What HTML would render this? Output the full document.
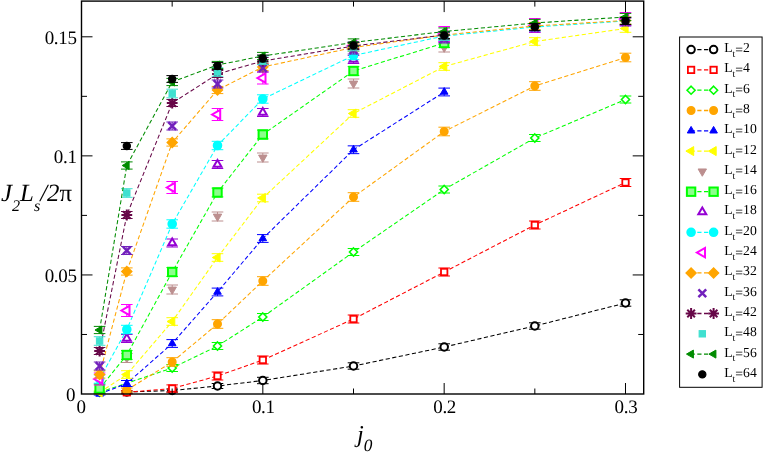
<!DOCTYPE html>
<html><head><meta charset="utf-8"><title>chart</title>
<style>html,body{margin:0;padding:0;background:#fff}body{width:763px;height:453px;position:relative;overflow:hidden;font-family:"Liberation Serif",serif}</style></head>
<body>
<svg width="763" height="453" viewBox="0 0 763 453" style="position:absolute;left:0;top:0;will-change:transform" text-rendering="geometricPrecision">
<rect x="0" y="0" width="763" height="453" fill="#fff"/>
<g>
<path d="M126.8 392L172.2 390.5L217.5 386L262.8 380.5L353.5 366L444.2 347L534.8 326L625.5 303" fill="none" stroke="#000000" stroke-width="1.05" stroke-dasharray="4.2 2.5"/>
<path d="M126.8 391V393M121 391H132.6M121 393H132.6M172.2 389V392M166.4 389H178M166.4 392H178M217.5 383.5V388.5M211.7 383.5H223.3M211.7 388.5H223.3M262.8 377.3V383.7M257 377.3H268.6M257 383.7H268.6M353.5 362.8V369.2M347.7 362.8H359.3M347.7 369.2H359.3M444.2 343.8V350.2M438.4 343.8H450M438.4 350.2H450M534.8 322.8V329.2M529 322.8H540.6M529 329.2H540.6M625.5 299.8V306.2M619.7 299.8H631.3M619.7 306.2H631.3" fill="none" stroke="#000000" stroke-width="1.0"/>
<circle cx="126.8" cy="392" r="3.75" fill="#fff" stroke="#000000" stroke-width="2.0"/>
<circle cx="172.2" cy="390.5" r="3.75" fill="#fff" stroke="#000000" stroke-width="2.0"/>
<circle cx="217.5" cy="386" r="3.75" fill="#fff" stroke="#000000" stroke-width="2.0"/>
<circle cx="262.8" cy="380.5" r="3.75" fill="#fff" stroke="#000000" stroke-width="2.0"/>
<circle cx="353.5" cy="366" r="3.75" fill="#fff" stroke="#000000" stroke-width="2.0"/>
<circle cx="444.2" cy="347" r="3.75" fill="#fff" stroke="#000000" stroke-width="2.0"/>
<circle cx="534.8" cy="326" r="3.75" fill="#fff" stroke="#000000" stroke-width="2.0"/>
<circle cx="625.5" cy="303" r="3.75" fill="#fff" stroke="#000000" stroke-width="2.0"/>
</g>
<g>
<path d="M126.8 392.3L172.2 388.5L217.5 376L262.8 360L353.5 319L444.2 272L534.8 225L625.5 182.5" fill="none" stroke="#ff0000" stroke-width="1.05" stroke-dasharray="4.2 2.5"/>
<path d="M126.8 390.8V393.8M121 390.8H132.6M121 393.8H132.6M172.2 384.9V392.1M166.4 384.9H178M166.4 392.1H178M217.5 372V380M211.7 372H223.3M211.7 380H223.3M262.8 356V364M257 356H268.6M257 364H268.6M353.5 315V323M347.7 315H359.3M347.7 323H359.3M444.2 268V276M438.4 268H450M438.4 276H450M534.8 221V229M529 221H540.6M529 229H540.6M625.5 178.5V186.5M619.7 178.5H631.3M619.7 186.5H631.3" fill="none" stroke="#ff0000" stroke-width="1.0"/>
<rect x="123.6" y="389.1" width="6.4" height="6.4" fill="#fff" stroke="#ff0000" stroke-width="1.8"/>
<rect x="169" y="385.3" width="6.4" height="6.4" fill="#fff" stroke="#ff0000" stroke-width="1.8"/>
<rect x="214.3" y="372.8" width="6.4" height="6.4" fill="#fff" stroke="#ff0000" stroke-width="1.8"/>
<rect x="259.6" y="356.8" width="6.4" height="6.4" fill="#fff" stroke="#ff0000" stroke-width="1.8"/>
<rect x="350.3" y="315.8" width="6.4" height="6.4" fill="#fff" stroke="#ff0000" stroke-width="1.8"/>
<rect x="441" y="268.8" width="6.4" height="6.4" fill="#fff" stroke="#ff0000" stroke-width="1.8"/>
<rect x="531.6" y="221.8" width="6.4" height="6.4" fill="#fff" stroke="#ff0000" stroke-width="1.8"/>
<rect x="622.3" y="179.3" width="6.4" height="6.4" fill="#fff" stroke="#ff0000" stroke-width="1.8"/>
</g>
<g>
<path d="M99.6 392.3L172.2 368L217.5 346L262.8 317L353.5 252L444.2 189.5L534.8 138L625.5 99.5" fill="none" stroke="#00ff00" stroke-width="1.05" stroke-dasharray="4.2 2.5"/>
<path d="M99.6 391.3V393.3M93.8 391.3H105.4M93.8 393.3H105.4M172.2 364.5V371.5M166.4 364.5H178M166.4 371.5H178M217.5 342.5V349.5M211.7 342.5H223.3M211.7 349.5H223.3M262.8 313.5V320.5M257 313.5H268.6M257 320.5H268.6M353.5 248.5V255.5M347.7 248.5H359.3M347.7 255.5H359.3M444.2 186V193M438.4 186H450M438.4 193H450M534.8 134.5V141.5M529 134.5H540.6M529 141.5H540.6M625.5 96V103M619.7 96H631.3M619.7 103H631.3" fill="none" stroke="#00ff00" stroke-width="1.0"/>
<polygon points="99.6,388.3 103.6,392.3 99.6,396.3 95.6,392.3" fill="#fff" stroke="#00ff00" stroke-width="1.6" stroke-linejoin="miter"/>
<polygon points="172.2,364 176.2,368 172.2,372 168.2,368" fill="#fff" stroke="#00ff00" stroke-width="1.6" stroke-linejoin="miter"/>
<polygon points="217.5,342 221.5,346 217.5,350 213.5,346" fill="#fff" stroke="#00ff00" stroke-width="1.6" stroke-linejoin="miter"/>
<polygon points="262.8,313 266.8,317 262.8,321 258.8,317" fill="#fff" stroke="#00ff00" stroke-width="1.6" stroke-linejoin="miter"/>
<polygon points="353.5,248 357.5,252 353.5,256 349.5,252" fill="#fff" stroke="#00ff00" stroke-width="1.6" stroke-linejoin="miter"/>
<polygon points="444.2,185.5 448.2,189.5 444.2,193.5 440.2,189.5" fill="#fff" stroke="#00ff00" stroke-width="1.6" stroke-linejoin="miter"/>
<polygon points="534.8,134 538.8,138 534.8,142 530.8,138" fill="#fff" stroke="#00ff00" stroke-width="1.6" stroke-linejoin="miter"/>
<polygon points="625.5,95.5 629.5,99.5 625.5,103.5 621.5,99.5" fill="#fff" stroke="#00ff00" stroke-width="1.6" stroke-linejoin="miter"/>
</g>
<g>
<path d="M126.8 390L172.2 362L217.5 324L262.8 281L353.5 197L444.2 131.5L534.8 86L625.5 57.5" fill="none" stroke="#ffa500" stroke-width="1.05" stroke-dasharray="4.2 2.5"/>
<path d="M126.8 388V392M121 388H132.6M121 392H132.6M172.2 357.7V366.3M166.4 357.7H178M166.4 366.3H178M217.5 319.7V328.3M211.7 319.7H223.3M211.7 328.3H223.3M262.8 276.7V285.3M257 276.7H268.6M257 285.3H268.6M353.5 192.7V201.3M347.7 192.7H359.3M347.7 201.3H359.3M444.2 127.2V135.8M438.4 127.2H450M438.4 135.8H450M534.8 81.7V90.3M529 81.7H540.6M529 90.3H540.6M625.5 53.2V61.8M619.7 53.2H631.3M619.7 61.8H631.3" fill="none" stroke="#ffa500" stroke-width="1.0"/>
<circle cx="126.8" cy="390" r="3.75" fill="#ffa500" stroke="#ffa500" stroke-width="1.5"/>
<circle cx="172.2" cy="362" r="3.75" fill="#ffa500" stroke="#ffa500" stroke-width="1.5"/>
<circle cx="217.5" cy="324" r="3.75" fill="#ffa500" stroke="#ffa500" stroke-width="1.5"/>
<circle cx="262.8" cy="281" r="3.75" fill="#ffa500" stroke="#ffa500" stroke-width="1.5"/>
<circle cx="353.5" cy="197" r="3.75" fill="#ffa500" stroke="#ffa500" stroke-width="1.5"/>
<circle cx="444.2" cy="131.5" r="3.75" fill="#ffa500" stroke="#ffa500" stroke-width="1.5"/>
<circle cx="534.8" cy="86" r="3.75" fill="#ffa500" stroke="#ffa500" stroke-width="1.5"/>
<circle cx="625.5" cy="57.5" r="3.75" fill="#ffa500" stroke="#ffa500" stroke-width="1.5"/>
</g>
<g>
<path d="M99.6 394L126.8 383.5L172.2 343.5L217.5 292L262.8 238.5L353.5 149.75L444.2 92" fill="none" stroke="#0000ff" stroke-width="1.05" stroke-dasharray="4.2 2.5"/>
<path d="M99.6 393V395M93.8 393H105.4M93.8 395H105.4M126.8 380.5V386.5M121 380.5H132.6M121 386.5H132.6M172.2 339.6V347.4M166.4 339.6H178M166.4 347.4H178M217.5 288.1V295.9M211.7 288.1H223.3M211.7 295.9H223.3M262.8 234.6V242.4M257 234.6H268.6M257 242.4H268.6M353.5 145.85V153.65M347.7 145.85H359.3M347.7 153.65H359.3M444.2 88.1V95.9M438.4 88.1H450M438.4 95.9H450" fill="none" stroke="#0000ff" stroke-width="1.0"/>
<polygon points="99.6,389.61 103.4,396.19 95.8,396.19" fill="#0000ff" stroke="#0000ff" stroke-width="1.0" stroke-linejoin="miter"/>
<polygon points="126.8,379.11 130.6,385.69 123,385.69" fill="#0000ff" stroke="#0000ff" stroke-width="1.0" stroke-linejoin="miter"/>
<polygon points="172.2,339.11 176,345.69 168.4,345.69" fill="#0000ff" stroke="#0000ff" stroke-width="1.0" stroke-linejoin="miter"/>
<polygon points="217.5,287.61 221.3,294.19 213.7,294.19" fill="#0000ff" stroke="#0000ff" stroke-width="1.0" stroke-linejoin="miter"/>
<polygon points="262.8,234.11 266.6,240.69 259,240.69" fill="#0000ff" stroke="#0000ff" stroke-width="1.0" stroke-linejoin="miter"/>
<polygon points="353.5,145.36 357.3,151.94 349.7,151.94" fill="#0000ff" stroke="#0000ff" stroke-width="1.0" stroke-linejoin="miter"/>
<polygon points="444.2,87.61 448,94.19 440.4,94.19" fill="#0000ff" stroke="#0000ff" stroke-width="1.0" stroke-linejoin="miter"/>
</g>
<g>
<path d="M99.6 392.5L126.8 374.5L172.2 321.5L217.5 257.5L262.8 198L353.5 113.5L444.2 66.5L534.8 41.5L625.5 28.5" fill="none" stroke="#ffff00" stroke-width="1.05" stroke-dasharray="4.2 2.5"/>
<path d="M99.6 391V394M93.8 391H105.4M93.8 394H105.4M126.8 370.7V378.3M121 370.7H132.6M121 378.3H132.6M172.2 317.7V325.3M166.4 317.7H178M166.4 325.3H178M217.5 253.7V261.3M211.7 253.7H223.3M211.7 261.3H223.3M262.8 194.2V201.8M257 194.2H268.6M257 201.8H268.6M353.5 109.7V117.3M347.7 109.7H359.3M347.7 117.3H359.3M444.2 62.7V70.3M438.4 62.7H450M438.4 70.3H450M534.8 37.7V45.3M529 37.7H540.6M529 45.3H540.6M625.5 24.7V32.3M619.7 24.7H631.3M619.7 32.3H631.3" fill="none" stroke="#ffff00" stroke-width="1.0"/>
<polygon points="94.4,392.5 102.2,388 102.2,397" fill="#ffff00" stroke="#ffff00" stroke-width="1.0" stroke-linejoin="miter"/>
<polygon points="121.6,374.5 129.4,370 129.4,379" fill="#ffff00" stroke="#ffff00" stroke-width="1.0" stroke-linejoin="miter"/>
<polygon points="167,321.5 174.8,317 174.8,326" fill="#ffff00" stroke="#ffff00" stroke-width="1.0" stroke-linejoin="miter"/>
<polygon points="212.3,257.5 220.1,253 220.1,262" fill="#ffff00" stroke="#ffff00" stroke-width="1.0" stroke-linejoin="miter"/>
<polygon points="257.6,198 265.4,193.5 265.4,202.5" fill="#ffff00" stroke="#ffff00" stroke-width="1.0" stroke-linejoin="miter"/>
<polygon points="348.3,113.5 356.1,109 356.1,118" fill="#ffff00" stroke="#ffff00" stroke-width="1.0" stroke-linejoin="miter"/>
<polygon points="439,66.5 446.8,62 446.8,71" fill="#ffff00" stroke="#ffff00" stroke-width="1.0" stroke-linejoin="miter"/>
<polygon points="529.6,41.5 537.4,37 537.4,46" fill="#ffff00" stroke="#ffff00" stroke-width="1.0" stroke-linejoin="miter"/>
<polygon points="620.3,28.5 628.1,24 628.1,33" fill="#ffff00" stroke="#ffff00" stroke-width="1.0" stroke-linejoin="miter"/>
</g>
<g>
<path d="M126.8 353.5V362.5M121 353.5H132.6M121 362.5H132.6M172.2 285V294M166.4 285H178M166.4 294H178M217.5 212V221M211.7 212H223.3M211.7 221H223.3M262.8 153V162M257 153H268.6M257 162H268.6M353.5 79V88M347.7 79H359.3M347.7 88H359.3M444.2 43V52M438.4 43H450M438.4 52H450" fill="none" stroke="#bc8f8f" stroke-width="1.0"/>
<polygon points="126.8,362.85 131,355.58 122.6,355.58" fill="#bc8f8f" stroke="#bc8f8f" stroke-width="1.0" stroke-linejoin="miter"/>
<polygon points="172.2,294.35 176.4,287.08 168,287.08" fill="#bc8f8f" stroke="#bc8f8f" stroke-width="1.0" stroke-linejoin="miter"/>
<polygon points="217.5,221.35 221.7,214.08 213.3,214.08" fill="#bc8f8f" stroke="#bc8f8f" stroke-width="1.0" stroke-linejoin="miter"/>
<polygon points="262.8,162.35 267,155.08 258.6,155.08" fill="#bc8f8f" stroke="#bc8f8f" stroke-width="1.0" stroke-linejoin="miter"/>
<polygon points="353.5,88.35 357.7,81.08 349.3,81.08" fill="#bc8f8f" stroke="#bc8f8f" stroke-width="1.0" stroke-linejoin="miter"/>
<polygon points="444.2,52.35 448.4,45.08 440,45.08" fill="#bc8f8f" stroke="#bc8f8f" stroke-width="1.0" stroke-linejoin="miter"/>
</g>
<g>
<path d="M99.6 388.5L126.8 355L172.2 272L217.5 192.5L262.8 134.5L353.5 71L444.2 43" fill="none" stroke="#00ff00" stroke-width="1.05" stroke-dasharray="4.2 2.5"/>
<path d="M99.6 384.1V392.9M93.8 384.1H105.4M93.8 392.9H105.4M126.8 350.6V359.4M121 350.6H132.6M121 359.4H132.6M172.2 267.6V276.4M166.4 267.6H178M166.4 276.4H178M217.5 188.1V196.9M211.7 188.1H223.3M211.7 196.9H223.3M262.8 130.1V138.9M257 130.1H268.6M257 138.9H268.6M353.5 66.6V75.4M347.7 66.6H359.3M347.7 75.4H359.3M444.2 38.6V47.4M438.4 38.6H450M438.4 47.4H450" fill="none" stroke="#00ff00" stroke-width="1.0"/>
<rect x="95.4" y="384.3" width="8.4" height="8.4" fill="#8cff8c" stroke="#00ff00" stroke-width="2.0"/>
<rect x="122.6" y="350.8" width="8.4" height="8.4" fill="#8cff8c" stroke="#00ff00" stroke-width="2.0"/>
<rect x="168" y="267.8" width="8.4" height="8.4" fill="#8cff8c" stroke="#00ff00" stroke-width="2.0"/>
<rect x="213.3" y="188.3" width="8.4" height="8.4" fill="#8cff8c" stroke="#00ff00" stroke-width="2.0"/>
<rect x="258.6" y="130.3" width="8.4" height="8.4" fill="#8cff8c" stroke="#00ff00" stroke-width="2.0"/>
<rect x="349.3" y="66.8" width="8.4" height="8.4" fill="#8cff8c" stroke="#00ff00" stroke-width="2.0"/>
<rect x="440" y="38.8" width="8.4" height="8.4" fill="#8cff8c" stroke="#00ff00" stroke-width="2.0"/>
</g>
<g>
<path d="M126.8 334.5V342.5M121 334.5H132.6M121 342.5H132.6M172.2 239V247M166.4 239H178M166.4 247H178M217.5 160.5V168.5M211.7 160.5H223.3M211.7 168.5H223.3M262.8 108.5V116.5M257 108.5H268.6M257 116.5H268.6M353.5 55.5V63.5M347.7 55.5H359.3M347.7 63.5H359.3M444.2 34V42M438.4 34H450M438.4 42H450" fill="none" stroke="#9400d3" stroke-width="1.0"/>
<polygon points="126.8,333.88 130.8,340.81 122.8,340.81" fill="#fff" stroke="#9400d3" stroke-width="2.0" stroke-linejoin="miter"/>
<polygon points="172.2,238.38 176.2,245.31 168.2,245.31" fill="#fff" stroke="#9400d3" stroke-width="2.0" stroke-linejoin="miter"/>
<polygon points="217.5,159.88 221.5,166.81 213.5,166.81" fill="#fff" stroke="#9400d3" stroke-width="2.0" stroke-linejoin="miter"/>
<polygon points="262.8,107.88 266.8,114.81 258.8,114.81" fill="#fff" stroke="#9400d3" stroke-width="2.0" stroke-linejoin="miter"/>
<polygon points="353.5,54.88 357.5,61.81 349.5,61.81" fill="#fff" stroke="#9400d3" stroke-width="2.0" stroke-linejoin="miter"/>
<polygon points="444.2,33.38 448.2,40.31 440.2,40.31" fill="#fff" stroke="#9400d3" stroke-width="2.0" stroke-linejoin="miter"/>
</g>
<g>
<path d="M99.6 379L126.8 329.5L172.2 224L217.5 145.5L262.8 99L353.5 55.5L444.2 36L534.8 27L625.5 21" fill="none" stroke="#00ffff" stroke-width="1.05" stroke-dasharray="4.2 2.5"/>
<path d="M99.6 374.8V383.2M93.8 374.8H105.4M93.8 383.2H105.4M126.8 325.3V333.7M121 325.3H132.6M121 333.7H132.6M172.2 219.8V228.2M166.4 219.8H178M166.4 228.2H178M217.5 141.3V149.7M211.7 141.3H223.3M211.7 149.7H223.3M262.8 94.8V103.2M257 94.8H268.6M257 103.2H268.6M353.5 51.3V59.7M347.7 51.3H359.3M347.7 59.7H359.3M444.2 31.8V40.2M438.4 31.8H450M438.4 40.2H450M534.8 22.8V31.2M529 22.8H540.6M529 31.2H540.6M625.5 16.8V25.2M619.7 16.8H631.3M619.7 25.2H631.3" fill="none" stroke="#00ffff" stroke-width="1.0"/>
<circle cx="99.6" cy="379" r="4" fill="#00ffff" stroke="#00ffff" stroke-width="1.6"/>
<circle cx="126.8" cy="329.5" r="4" fill="#00ffff" stroke="#00ffff" stroke-width="1.6"/>
<circle cx="172.2" cy="224" r="4" fill="#00ffff" stroke="#00ffff" stroke-width="1.6"/>
<circle cx="217.5" cy="145.5" r="4" fill="#00ffff" stroke="#00ffff" stroke-width="1.6"/>
<circle cx="262.8" cy="99" r="4" fill="#00ffff" stroke="#00ffff" stroke-width="1.6"/>
<circle cx="353.5" cy="55.5" r="4" fill="#00ffff" stroke="#00ffff" stroke-width="1.6"/>
<circle cx="444.2" cy="36" r="4" fill="#00ffff" stroke="#00ffff" stroke-width="1.6"/>
<circle cx="534.8" cy="27" r="4" fill="#00ffff" stroke="#00ffff" stroke-width="1.6"/>
<circle cx="625.5" cy="21" r="4" fill="#00ffff" stroke="#00ffff" stroke-width="1.6"/>
</g>
<g>
<path d="M99.6 373V385M93.8 373H105.4M93.8 385H105.4M126.8 304.5V316.5M121 304.5H132.6M121 316.5H132.6M172.2 181.5V193.5M166.4 181.5H178M166.4 193.5H178M217.5 108.5V120.5M211.7 108.5H223.3M211.7 120.5H223.3M262.8 72V84M257 72H268.6M257 84H268.6M353.5 42.5V48.9M347.7 42.5H359.3M347.7 48.9H359.3M444.2 26.5V41.5M438.4 26.5H450M438.4 41.5H450M534.8 18.5V32.5M529 18.5H540.6M529 32.5H540.6M625.5 12.5V25.5M619.7 12.5H631.3M619.7 25.5H631.3" fill="none" stroke="#ff00ff" stroke-width="1.0"/>
<polygon points="94.17,379 102.31,374.3 102.31,383.7" fill="#fff" stroke="#ff00ff" stroke-width="2.0" stroke-linejoin="miter"/>
<polygon points="121.37,310.5 129.51,305.8 129.51,315.2" fill="#fff" stroke="#ff00ff" stroke-width="2.0" stroke-linejoin="miter"/>
<polygon points="166.77,187.5 174.91,182.8 174.91,192.2" fill="#fff" stroke="#ff00ff" stroke-width="2.0" stroke-linejoin="miter"/>
<polygon points="212.07,114.5 220.21,109.8 220.21,119.2" fill="#fff" stroke="#ff00ff" stroke-width="2.0" stroke-linejoin="miter"/>
<polygon points="257.37,78 265.51,73.3 265.51,82.7" fill="#fff" stroke="#ff00ff" stroke-width="2.0" stroke-linejoin="miter"/>
<polygon points="348.07,45.7 356.21,41 356.21,50.4" fill="#fff" stroke="#ff00ff" stroke-width="2.0" stroke-linejoin="miter"/>
<polygon points="438.77,34 446.91,29.3 446.91,38.7" fill="#fff" stroke="#ff00ff" stroke-width="2.0" stroke-linejoin="miter"/>
<polygon points="529.37,25.5 537.51,20.8 537.51,30.2" fill="#fff" stroke="#ff00ff" stroke-width="2.0" stroke-linejoin="miter"/>
<polygon points="620.07,19 628.21,14.3 628.21,23.7" fill="#fff" stroke="#ff00ff" stroke-width="2.0" stroke-linejoin="miter"/>
</g>
<g>
<path d="M99.6 374.5L126.8 271.5L172.2 142.5L217.5 90L262.8 67L353.5 47.5L444.2 35L534.8 26L625.5 20.5" fill="none" stroke="#ffa500" stroke-width="1.05" stroke-dasharray="4.2 2.5"/>
<path d="M99.6 370.9V378.1M93.8 370.9H105.4M93.8 378.1H105.4M126.8 267.9V275.1M121 267.9H132.6M121 275.1H132.6M172.2 138.9V146.1M166.4 138.9H178M166.4 146.1H178M217.5 86.4V93.6M211.7 86.4H223.3M211.7 93.6H223.3M262.8 63.4V70.6M257 63.4H268.6M257 70.6H268.6M353.5 43.9V51.1M347.7 43.9H359.3M347.7 51.1H359.3M444.2 31.4V38.6M438.4 31.4H450M438.4 38.6H450M534.8 22.4V29.6M529 22.4H540.6M529 29.6H540.6M625.5 16.9V24.1M619.7 16.9H631.3M619.7 24.1H631.3" fill="none" stroke="#ffa500" stroke-width="1.0"/>
<polygon points="99.6,369.5 104.6,374.5 99.6,379.5 94.6,374.5" fill="#ffa500" stroke="#ffa500" stroke-width="1.4" stroke-linejoin="miter"/>
<polygon points="126.8,266.5 131.8,271.5 126.8,276.5 121.8,271.5" fill="#ffa500" stroke="#ffa500" stroke-width="1.4" stroke-linejoin="miter"/>
<polygon points="172.2,137.5 177.2,142.5 172.2,147.5 167.2,142.5" fill="#ffa500" stroke="#ffa500" stroke-width="1.4" stroke-linejoin="miter"/>
<polygon points="217.5,85 222.5,90 217.5,95 212.5,90" fill="#ffa500" stroke="#ffa500" stroke-width="1.4" stroke-linejoin="miter"/>
<polygon points="262.8,62 267.8,67 262.8,72 257.8,67" fill="#ffa500" stroke="#ffa500" stroke-width="1.4" stroke-linejoin="miter"/>
<polygon points="353.5,42.5 358.5,47.5 353.5,52.5 348.5,47.5" fill="#ffa500" stroke="#ffa500" stroke-width="1.4" stroke-linejoin="miter"/>
<polygon points="444.2,30 449.2,35 444.2,40 439.2,35" fill="#ffa500" stroke="#ffa500" stroke-width="1.4" stroke-linejoin="miter"/>
<polygon points="534.8,21 539.8,26 534.8,31 529.8,26" fill="#ffa500" stroke="#ffa500" stroke-width="1.4" stroke-linejoin="miter"/>
<polygon points="625.5,15.5 630.5,20.5 625.5,25.5 620.5,20.5" fill="#ffa500" stroke="#ffa500" stroke-width="1.4" stroke-linejoin="miter"/>
</g>
<g>
<path d="M99.6 362V370M93.8 362H105.4M93.8 370H105.4M126.8 246.5V254.5M121 246.5H132.6M121 254.5H132.6M172.2 122V130M166.4 122H178M166.4 130H178M217.5 80V88M211.7 80H223.3M211.7 88H223.3M262.8 64V72M257 64H268.6M257 72H268.6M353.5 46V54M347.7 46H359.3M347.7 54H359.3M444.2 35V43M438.4 35H450M438.4 43H450M534.8 24V32M529 24H540.6M529 32H540.6M625.5 18V26M619.7 18H631.3M619.7 26H631.3" fill="none" stroke="#7221bc" stroke-width="1.0"/>
<path d="M95.7 362.1L103.5 369.9M95.7 369.9L103.5 362.1" stroke="#7221bc" stroke-width="2.5" fill="none"/>
<path d="M122.9 246.6L130.7 254.4M122.9 254.4L130.7 246.6" stroke="#7221bc" stroke-width="2.5" fill="none"/>
<path d="M168.3 122.1L176.1 129.9M168.3 129.9L176.1 122.1" stroke="#7221bc" stroke-width="2.5" fill="none"/>
<path d="M213.6 80.1L221.4 87.9M213.6 87.9L221.4 80.1" stroke="#7221bc" stroke-width="2.5" fill="none"/>
<path d="M258.9 64.1L266.7 71.9M258.9 71.9L266.7 64.1" stroke="#7221bc" stroke-width="2.5" fill="none"/>
<path d="M349.6 46.1L357.4 53.9M349.6 53.9L357.4 46.1" stroke="#7221bc" stroke-width="2.5" fill="none"/>
<path d="M440.3 35.1L448.1 42.9M440.3 42.9L448.1 35.1" stroke="#7221bc" stroke-width="2.5" fill="none"/>
<path d="M530.9 24.1L538.7 31.9M530.9 31.9L538.7 24.1" stroke="#7221bc" stroke-width="2.5" fill="none"/>
<path d="M621.6 18.1L629.4 25.9M621.6 25.9L629.4 18.1" stroke="#7221bc" stroke-width="2.5" fill="none"/>
</g>
<g>
<path d="M99.6 351L126.8 215L172.2 103L217.5 74L262.8 61L353.5 46L444.2 35" fill="none" stroke="#670748" stroke-width="1.05" stroke-dasharray="4.2 2.5"/>
<path d="M99.6 347.5V354.5M93.8 347.5H105.4M93.8 354.5H105.4M126.8 211.5V218.5M121 211.5H132.6M121 218.5H132.6M172.2 99.5V106.5M166.4 99.5H178M166.4 106.5H178M217.5 70.5V77.5M211.7 70.5H223.3M211.7 77.5H223.3M262.8 57.5V64.5M257 57.5H268.6M257 64.5H268.6M353.5 42.5V49.5M347.7 42.5H359.3M347.7 49.5H359.3M444.2 31.5V38.5M438.4 31.5H450M438.4 38.5H450" fill="none" stroke="#670748" stroke-width="1.0"/>
<path d="M94.2 351L105 351M99.6 345.6L99.6 356.4M95.78 347.18L103.42 354.82M95.78 354.82L103.42 347.18" stroke="#670748" stroke-width="2.0" fill="none"/>
<path d="M121.4 215L132.2 215M126.8 209.6L126.8 220.4M122.98 211.18L130.62 218.82M122.98 218.82L130.62 211.18" stroke="#670748" stroke-width="2.0" fill="none"/>
<path d="M166.8 103L177.6 103M172.2 97.6L172.2 108.4M168.38 99.18L176.02 106.82M168.38 106.82L176.02 99.18" stroke="#670748" stroke-width="2.0" fill="none"/>
<path d="M212.1 74L222.9 74M217.5 68.6L217.5 79.4M213.68 70.18L221.32 77.82M213.68 77.82L221.32 70.18" stroke="#670748" stroke-width="2.0" fill="none"/>
<path d="M257.4 61L268.2 61M262.8 55.6L262.8 66.4M258.98 57.18L266.62 64.82M258.98 64.82L266.62 57.18" stroke="#670748" stroke-width="2.0" fill="none"/>
<path d="M348.1 46L358.9 46M353.5 40.6L353.5 51.4M349.68 42.18L357.32 49.82M349.68 49.82L357.32 42.18" stroke="#670748" stroke-width="2.0" fill="none"/>
<path d="M438.8 35L449.6 35M444.2 29.6L444.2 40.4M440.38 31.18L448.02 38.82M440.38 38.82L448.02 31.18" stroke="#670748" stroke-width="2.0" fill="none"/>
</g>
<g>
<path d="M99.6 336.7V345.3M93.8 336.7H105.4M93.8 345.3H105.4M126.8 188.7V197.3M121 188.7H132.6M121 197.3H132.6M172.2 89.2V97.8M166.4 89.2H178M166.4 97.8H178M217.5 67.7V76.3M211.7 67.7H223.3M211.7 76.3H223.3M262.8 56V64.6M257 56H268.6M257 64.6H268.6M353.5 42.2V50.8M347.7 42.2H359.3M347.7 50.8H359.3M444.2 31.7V40.3M438.4 31.7H450M438.4 40.3H450" fill="none" stroke="#40e0d0" stroke-width="1.0"/>
<rect x="96.4" y="337.8" width="6.4" height="6.4" fill="#40e0d0" stroke="#40e0d0" stroke-width="1.0"/>
<rect x="123.6" y="189.8" width="6.4" height="6.4" fill="#40e0d0" stroke="#40e0d0" stroke-width="1.0"/>
<rect x="169" y="90.3" width="6.4" height="6.4" fill="#40e0d0" stroke="#40e0d0" stroke-width="1.0"/>
<rect x="214.3" y="68.8" width="6.4" height="6.4" fill="#40e0d0" stroke="#40e0d0" stroke-width="1.0"/>
<rect x="259.6" y="57.1" width="6.4" height="6.4" fill="#40e0d0" stroke="#40e0d0" stroke-width="1.0"/>
<rect x="350.3" y="43.3" width="6.4" height="6.4" fill="#40e0d0" stroke="#40e0d0" stroke-width="1.0"/>
<rect x="441" y="32.8" width="6.4" height="6.4" fill="#40e0d0" stroke="#40e0d0" stroke-width="1.0"/>
</g>
<g>
<path d="M99.6 330L126.8 165.5L172.2 82L217.5 65L262.8 56L353.5 42.5L444.2 31.5L534.8 23L625.5 17" fill="none" stroke="#008b00" stroke-width="1.05" stroke-dasharray="4.2 2.5"/>
<path d="M99.6 326.4V333.6M93.8 326.4H105.4M93.8 333.6H105.4M126.8 161.9V169.1M121 161.9H132.6M121 169.1H132.6M172.2 78.4V85.6M166.4 78.4H178M166.4 85.6H178M217.5 61.4V68.6M211.7 61.4H223.3M211.7 68.6H223.3M262.8 52.4V59.6M257 52.4H268.6M257 59.6H268.6M353.5 38.9V46.1M347.7 38.9H359.3M347.7 46.1H359.3M444.2 27.9V35.1M438.4 27.9H450M438.4 35.1H450M534.8 19.4V26.6M529 19.4H540.6M529 26.6H540.6M625.5 13.4V20.6M619.7 13.4H631.3M619.7 20.6H631.3" fill="none" stroke="#008b00" stroke-width="1.0"/>
<polygon points="94.98,330 101.91,326 101.91,334" fill="#008b00" stroke="#008b00" stroke-width="1.0" stroke-linejoin="miter"/>
<polygon points="122.18,165.5 129.11,161.5 129.11,169.5" fill="#008b00" stroke="#008b00" stroke-width="1.0" stroke-linejoin="miter"/>
<polygon points="167.58,82 174.51,78 174.51,86" fill="#008b00" stroke="#008b00" stroke-width="1.0" stroke-linejoin="miter"/>
<polygon points="212.88,65 219.81,61 219.81,69" fill="#008b00" stroke="#008b00" stroke-width="1.0" stroke-linejoin="miter"/>
<polygon points="258.18,56 265.11,52 265.11,60" fill="#008b00" stroke="#008b00" stroke-width="1.0" stroke-linejoin="miter"/>
<polygon points="348.88,42.5 355.81,38.5 355.81,46.5" fill="#008b00" stroke="#008b00" stroke-width="1.0" stroke-linejoin="miter"/>
<polygon points="439.58,31.5 446.51,27.5 446.51,35.5" fill="#008b00" stroke="#008b00" stroke-width="1.0" stroke-linejoin="miter"/>
<polygon points="530.18,23 537.11,19 537.11,27" fill="#008b00" stroke="#008b00" stroke-width="1.0" stroke-linejoin="miter"/>
<polygon points="620.88,17 627.81,13 627.81,21" fill="#008b00" stroke="#008b00" stroke-width="1.0" stroke-linejoin="miter"/>
</g>
<g>
<path d="M126.8 142.6V149.4M121 142.6H132.6M121 149.4H132.6M172.2 75.6V82.4M166.4 75.6H178M166.4 82.4H178M217.5 62.6V69.4M211.7 62.6H223.3M211.7 69.4H223.3M262.8 55.1V61.9M257 55.1H268.6M257 61.9H268.6M353.5 42.1V48.9M347.7 42.1H359.3M347.7 48.9H359.3M444.2 32.1V38.9M438.4 32.1H450M438.4 38.9H450M534.8 23.6V30.4M529 23.6H540.6M529 30.4H540.6M625.5 17.6V24.4M619.7 17.6H631.3M619.7 24.4H631.3" fill="none" stroke="#000000" stroke-width="1.0"/>
<circle cx="126.8" cy="146" r="3.6" fill="#000000" stroke="#000000" stroke-width="1.2"/>
<circle cx="172.2" cy="79" r="3.6" fill="#000000" stroke="#000000" stroke-width="1.2"/>
<circle cx="217.5" cy="66" r="3.6" fill="#000000" stroke="#000000" stroke-width="1.2"/>
<circle cx="262.8" cy="58.5" r="3.6" fill="#000000" stroke="#000000" stroke-width="1.2"/>
<circle cx="353.5" cy="45.5" r="3.6" fill="#000000" stroke="#000000" stroke-width="1.2"/>
<circle cx="444.2" cy="35.5" r="3.6" fill="#000000" stroke="#000000" stroke-width="1.2"/>
<circle cx="534.8" cy="27" r="3.6" fill="#000000" stroke="#000000" stroke-width="1.2"/>
<circle cx="625.5" cy="21" r="3.6" fill="#000000" stroke="#000000" stroke-width="1.2"/>
</g>
<rect x="81.5" y="1.1" width="562.2" height="392.9" fill="none" stroke="#000" stroke-width="1.4"/>
<path d="M172.17 394.0v-5.5M172.17 1.1v5.5M262.83 394.0v-11M262.83 1.1v11M353.5 394.0v-5.5M353.5 1.1v5.5M444.16 394.0v-11M444.16 1.1v11M534.83 394.0v-5.5M534.83 1.1v5.5M625.49 394.0v-11M625.49 1.1v11M81.5 334.47h5.5M643.7 334.47h-5.5M81.5 274.94h11M643.7 274.94h-11M81.5 215.4h5.5M643.7 215.4h-5.5M81.5 155.87h11M643.7 155.87h-11M81.5 96.34h5.5M643.7 96.34h-5.5M81.5 36.8h11M643.7 36.8h-11" stroke="#000" stroke-width="1.0" fill="none"/>
<g font-family="Liberation Serif, serif" font-size="19.0" fill="#000" letter-spacing="-0.3">
<text x="81.2" y="412.9" text-anchor="middle">0</text>
<text x="263.33" y="412.9" text-anchor="middle">0.1</text>
<text x="444.66" y="412.9" text-anchor="middle">0.2</text>
<text x="625.99" y="412.9" text-anchor="middle">0.3</text>
<text x="75.2" y="401.3" text-anchor="end">0</text>
<text x="76.7" y="282.24" text-anchor="end">0.05</text>
<text x="76.7" y="163.17" text-anchor="end">0.1</text>
<text x="76.7" y="44.11" text-anchor="end">0.15</text>
</g>
<g font-family="Liberation Serif, serif" fill="#000" font-style="italic">
<text x="1" y="201" font-size="24.8">J<tspan font-size="16.2" dy="9.6">2</tspan><tspan dy="-9.6">L</tspan><tspan font-size="16.2" dy="9.6">s</tspan><tspan dy="-9.6">/2</tspan><tspan font-style="normal">π</tspan></text>
<text x="357" y="441.6" font-size="24.2">j<tspan font-size="17.3" dy="9.4">0</tspan></text>
</g>
<rect x="679.6" y="37.0" width="82.5" height="350.3" fill="#fff" stroke="#000" stroke-width="1.0"/>
<path d="M691.1 49.6H713.6" stroke="#000000" stroke-width="1.3" stroke-dasharray="4.2 2.5" stroke-dashoffset="-6.2" fill="none"/>
<circle cx="691.1" cy="49.6" r="3.75" fill="#fff" stroke="#000000" stroke-width="2.0"/>
<circle cx="713.6" cy="49.6" r="3.75" fill="#fff" stroke="#000000" stroke-width="2.0"/>
<text x="724.2" y="52" font-family="Liberation Serif, serif" font-size="13.7" fill="#000">L<tspan font-size="10" dy="4.8">t</tspan><tspan dy="-3.2">=</tspan><tspan dy="-1.6">2</tspan></text>
<path d="M691.1 69.9H713.6" stroke="#ff0000" stroke-width="1.3" stroke-dasharray="4.2 2.5" stroke-dashoffset="-6.2" fill="none"/>
<rect x="687.9" y="66.7" width="6.4" height="6.4" fill="#fff" stroke="#ff0000" stroke-width="1.8"/>
<rect x="710.4" y="66.7" width="6.4" height="6.4" fill="#fff" stroke="#ff0000" stroke-width="1.8"/>
<text x="724.2" y="72.3" font-family="Liberation Serif, serif" font-size="13.7" fill="#000">L<tspan font-size="10" dy="4.8">t</tspan><tspan dy="-3.2">=</tspan><tspan dy="-1.6">4</tspan></text>
<path d="M691.1 90.2H713.6" stroke="#00ff00" stroke-width="1.3" stroke-dasharray="4.2 2.5" stroke-dashoffset="-6.2" fill="none"/>
<polygon points="691.1,86.2 695.1,90.2 691.1,94.2 687.1,90.2" fill="#fff" stroke="#00ff00" stroke-width="1.6" stroke-linejoin="miter"/>
<polygon points="713.6,86.2 717.6,90.2 713.6,94.2 709.6,90.2" fill="#fff" stroke="#00ff00" stroke-width="1.6" stroke-linejoin="miter"/>
<text x="724.2" y="92.6" font-family="Liberation Serif, serif" font-size="13.7" fill="#000">L<tspan font-size="10" dy="4.8">t</tspan><tspan dy="-3.2">=</tspan><tspan dy="-1.6">6</tspan></text>
<path d="M691.1 110.5H713.6" stroke="#ffa500" stroke-width="1.3" stroke-dasharray="4.2 2.5" stroke-dashoffset="-6.2" fill="none"/>
<circle cx="691.1" cy="110.5" r="3.75" fill="#ffa500" stroke="#ffa500" stroke-width="1.5"/>
<circle cx="713.6" cy="110.5" r="3.75" fill="#ffa500" stroke="#ffa500" stroke-width="1.5"/>
<text x="724.2" y="112.9" font-family="Liberation Serif, serif" font-size="13.7" fill="#000">L<tspan font-size="10" dy="4.8">t</tspan><tspan dy="-3.2">=</tspan><tspan dy="-1.6">8</tspan></text>
<path d="M691.1 130.8H713.6" stroke="#0000ff" stroke-width="1.3" stroke-dasharray="4.2 2.5" stroke-dashoffset="-6.2" fill="none"/>
<polygon points="691.1,126.41 694.9,132.99 687.3,132.99" fill="#0000ff" stroke="#0000ff" stroke-width="1.0" stroke-linejoin="miter"/>
<polygon points="713.6,126.41 717.4,132.99 709.8,132.99" fill="#0000ff" stroke="#0000ff" stroke-width="1.0" stroke-linejoin="miter"/>
<text x="724.2" y="133.2" font-family="Liberation Serif, serif" font-size="13.7" fill="#000">L<tspan font-size="10" dy="4.8">t</tspan><tspan dy="-3.2">=</tspan><tspan dy="-1.6">10</tspan></text>
<path d="M691.1 151.1H713.6" stroke="#ffff00" stroke-width="1.3" stroke-dasharray="4.2 2.5" stroke-dashoffset="-6.2" fill="none"/>
<polygon points="685.9,151.1 693.7,146.6 693.7,155.6" fill="#ffff00" stroke="#ffff00" stroke-width="1.0" stroke-linejoin="miter"/>
<polygon points="708.4,151.1 716.2,146.6 716.2,155.6" fill="#ffff00" stroke="#ffff00" stroke-width="1.0" stroke-linejoin="miter"/>
<text x="724.2" y="153.5" font-family="Liberation Serif, serif" font-size="13.7" fill="#000">L<tspan font-size="10" dy="4.8">t</tspan><tspan dy="-3.2">=</tspan><tspan dy="-1.6">12</tspan></text>
<polygon points="702.3,176.25 706.5,168.98 698.1,168.98" fill="#bc8f8f" stroke="#bc8f8f" stroke-width="1.0" stroke-linejoin="miter"/>
<text x="724.2" y="173.8" font-family="Liberation Serif, serif" font-size="13.7" fill="#000">L<tspan font-size="10" dy="4.8">t</tspan><tspan dy="-3.2">=</tspan><tspan dy="-1.6">14</tspan></text>
<path d="M691.1 191.7H713.6" stroke="#00ff00" stroke-width="1.3" stroke-dasharray="4.2 2.5" stroke-dashoffset="-6.2" fill="none"/>
<rect x="686.9" y="187.5" width="8.4" height="8.4" fill="#8cff8c" stroke="#00ff00" stroke-width="2.0"/>
<rect x="709.4" y="187.5" width="8.4" height="8.4" fill="#8cff8c" stroke="#00ff00" stroke-width="2.0"/>
<text x="724.2" y="194.1" font-family="Liberation Serif, serif" font-size="13.7" fill="#000">L<tspan font-size="10" dy="4.8">t</tspan><tspan dy="-3.2">=</tspan><tspan dy="-1.6">16</tspan></text>
<polygon points="702.3,207.38 706.3,214.31 698.3,214.31" fill="#fff" stroke="#9400d3" stroke-width="2.0" stroke-linejoin="miter"/>
<text x="724.2" y="214.4" font-family="Liberation Serif, serif" font-size="13.7" fill="#000">L<tspan font-size="10" dy="4.8">t</tspan><tspan dy="-3.2">=</tspan><tspan dy="-1.6">18</tspan></text>
<path d="M691.1 232.3H713.6" stroke="#00ffff" stroke-width="1.3" stroke-dasharray="4.2 2.5" stroke-dashoffset="-6.2" fill="none"/>
<circle cx="691.1" cy="232.3" r="4" fill="#00ffff" stroke="#00ffff" stroke-width="1.6"/>
<circle cx="713.6" cy="232.3" r="4" fill="#00ffff" stroke="#00ffff" stroke-width="1.6"/>
<text x="724.2" y="234.7" font-family="Liberation Serif, serif" font-size="13.7" fill="#000">L<tspan font-size="10" dy="4.8">t</tspan><tspan dy="-3.2">=</tspan><tspan dy="-1.6">20</tspan></text>
<polygon points="696.87,252.6 705.01,247.9 705.01,257.3" fill="#fff" stroke="#ff00ff" stroke-width="2.0" stroke-linejoin="miter"/>
<text x="724.2" y="255" font-family="Liberation Serif, serif" font-size="13.7" fill="#000">L<tspan font-size="10" dy="4.8">t</tspan><tspan dy="-3.2">=</tspan><tspan dy="-1.6">24</tspan></text>
<path d="M691.1 272.9H713.6" stroke="#ffa500" stroke-width="1.3" stroke-dasharray="4.2 2.5" stroke-dashoffset="-6.2" fill="none"/>
<polygon points="691.1,267.9 696.1,272.9 691.1,277.9 686.1,272.9" fill="#ffa500" stroke="#ffa500" stroke-width="1.4" stroke-linejoin="miter"/>
<polygon points="713.6,267.9 718.6,272.9 713.6,277.9 708.6,272.9" fill="#ffa500" stroke="#ffa500" stroke-width="1.4" stroke-linejoin="miter"/>
<text x="724.2" y="275.3" font-family="Liberation Serif, serif" font-size="13.7" fill="#000">L<tspan font-size="10" dy="4.8">t</tspan><tspan dy="-3.2">=</tspan><tspan dy="-1.6">32</tspan></text>
<path d="M698.4 289.3L706.2 297.1M698.4 297.1L706.2 289.3" stroke="#7221bc" stroke-width="2.5" fill="none"/>
<text x="724.2" y="295.6" font-family="Liberation Serif, serif" font-size="13.7" fill="#000">L<tspan font-size="10" dy="4.8">t</tspan><tspan dy="-3.2">=</tspan><tspan dy="-1.6">36</tspan></text>
<path d="M691.1 313.5H713.6" stroke="#670748" stroke-width="1.3" stroke-dasharray="4.2 2.5" stroke-dashoffset="-6.2" fill="none"/>
<path d="M685.7 313.5L696.5 313.5M691.1 308.1L691.1 318.9M687.28 309.68L694.92 317.32M687.28 317.32L694.92 309.68" stroke="#670748" stroke-width="2.0" fill="none"/>
<path d="M708.2 313.5L719 313.5M713.6 308.1L713.6 318.9M709.78 309.68L717.42 317.32M709.78 317.32L717.42 309.68" stroke="#670748" stroke-width="2.0" fill="none"/>
<text x="724.2" y="315.9" font-family="Liberation Serif, serif" font-size="13.7" fill="#000">L<tspan font-size="10" dy="4.8">t</tspan><tspan dy="-3.2">=</tspan><tspan dy="-1.6">42</tspan></text>
<rect x="699.1" y="330.6" width="6.4" height="6.4" fill="#40e0d0" stroke="#40e0d0" stroke-width="1.0"/>
<text x="724.2" y="336.2" font-family="Liberation Serif, serif" font-size="13.7" fill="#000">L<tspan font-size="10" dy="4.8">t</tspan><tspan dy="-3.2">=</tspan><tspan dy="-1.6">48</tspan></text>
<path d="M691.1 354.1H713.6" stroke="#008b00" stroke-width="1.3" stroke-dasharray="4.2 2.5" stroke-dashoffset="-6.2" fill="none"/>
<polygon points="686.48,354.1 693.41,350.1 693.41,358.1" fill="#008b00" stroke="#008b00" stroke-width="1.0" stroke-linejoin="miter"/>
<polygon points="708.98,354.1 715.91,350.1 715.91,358.1" fill="#008b00" stroke="#008b00" stroke-width="1.0" stroke-linejoin="miter"/>
<text x="724.2" y="356.5" font-family="Liberation Serif, serif" font-size="13.7" fill="#000">L<tspan font-size="10" dy="4.8">t</tspan><tspan dy="-3.2">=</tspan><tspan dy="-1.6">56</tspan></text>
<circle cx="702.3" cy="374.4" r="3.6" fill="#000000" stroke="#000000" stroke-width="1.2"/>
<text x="724.2" y="376.8" font-family="Liberation Serif, serif" font-size="13.7" fill="#000">L<tspan font-size="10" dy="4.8">t</tspan><tspan dy="-3.2">=</tspan><tspan dy="-1.6">64</tspan></text>
</svg>
</body></html>
